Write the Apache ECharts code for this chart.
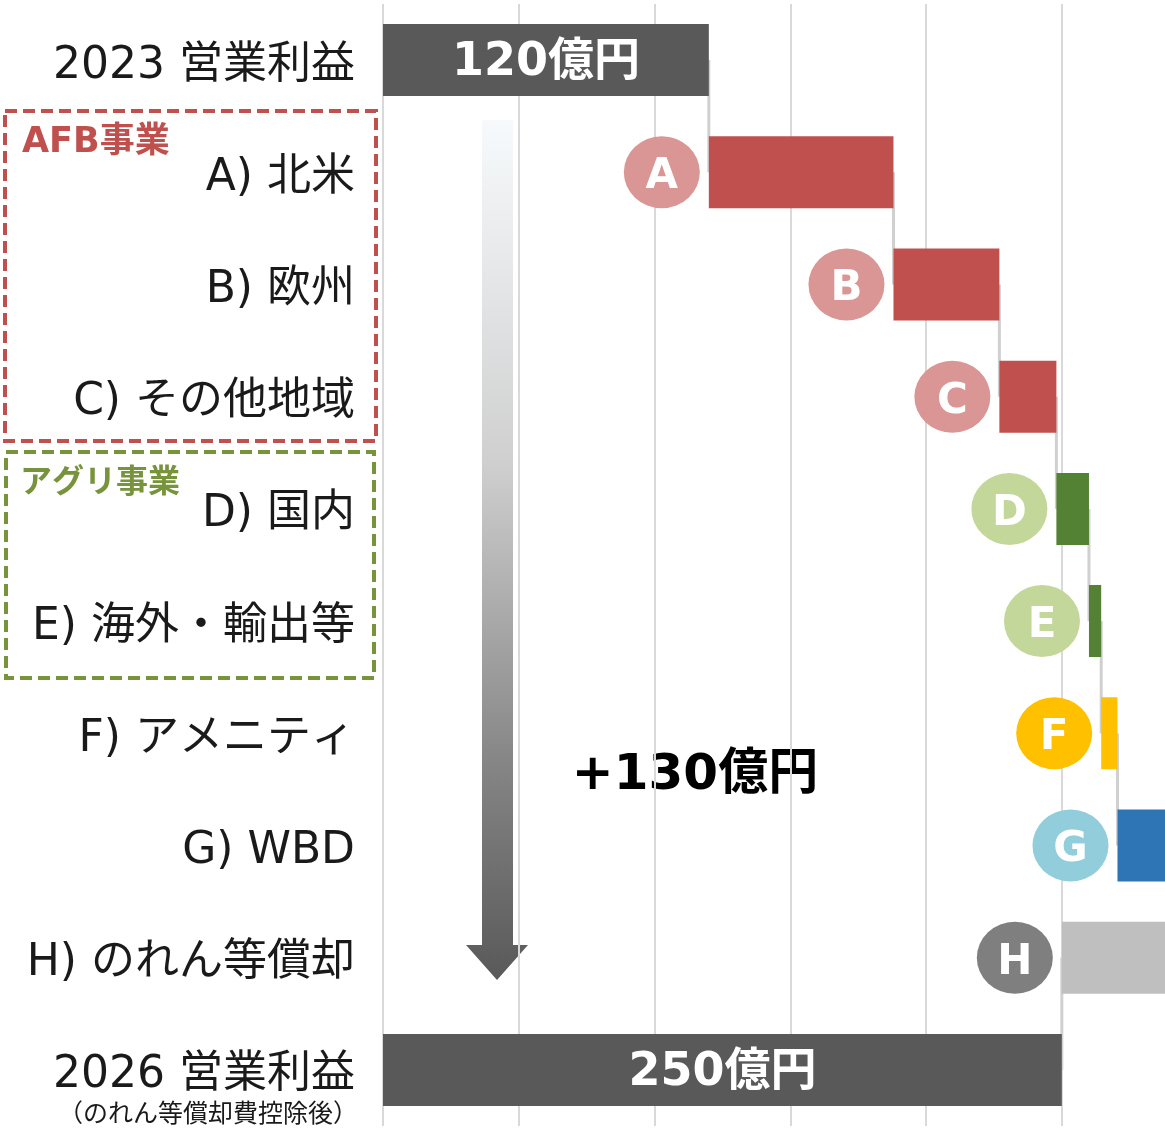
<!DOCTYPE html>
<html>
<head>
<meta charset="utf-8">
<script src="https://cdn.jsdelivr.net/npm/echarts@6/dist/echarts.min.js"></script>
<style>
  html, body { margin: 0; padding: 0; background: #fff; }
  #chart { width: 1165px; height: 1131px; }
</style>
</head>
<body>
<div id="chart"></div>
<script>
// 営業利益ブリッジ（億円）
const categories = ['2023 営業利益', 'A) 北米', 'B) 欧州', 'C) その他地域', 'D) 国内', 'E) 海外・輸出等', 'F) アメニティ', 'G) WBD', 'H) のれん等償却', '2026 営業利益']
const letters = ['', 'A', 'B', 'C', 'D', 'E', 'F', 'G', 'H', '']
const changes = [120, 68, 39, 21, 12, 4.5, 6, 30, -50.5, 250]
const isTotal = [true, false, false, false, false, false, false, false, false, true]
const totalLabels = ['120億円', '', '', '', '', '', '', '', '', '250億円']
const barColors = ['#595959', '#c0504d', '#c0504d', '#c0504d', '#548235', '#548235', '#ffc000', '#2e75b6', '#bfbfbf', '#595959']
const circleColors = ['', '#d99694', '#d99694', '#d99694', '#c4d79b', '#c4d79b', '#ffc000', '#92cddc', '#7f7f7f', '']

// waterfall: invisible base + visible length
const bases = []
const lengths = []
const runs = []
let running = 0
changes.forEach((v, i) => {
  if (isTotal[i]) {
    bases.push(0); lengths.push(v); running = v
  } else if (v >= 0) {
    bases.push(running); lengths.push(v); running += v
  } else {
    running += v; bases.push(running); lengths.push(-v)
  }
  runs.push(running)
})

const FONT = '"DejaVu Sans", "Noto Sans CJK JP", sans-serif'
const chart = echarts.init(document.getElementById('chart'))

chart.setOption({
  animation: false,
  grid: { left: 383, right: 0, top: 4, bottom: 5 },
  xAxis: {
    type: 'value', min: 0, max: 288, interval: 50,
    axisLine: { show: false }, axisTick: { show: false }, axisLabel: { show: false },
    splitLine: { show: true, showMaxLine: false, lineStyle: { color: '#d9d9d9', width: 2 } },
  },
  yAxis: {
    type: 'category', data: categories, inverse: true,
    axisLine: { show: false }, axisTick: { show: false },
    axisLabel: {
      margin: 28,
      formatter: (v) => '{p| }\n{t|' + v + '}',
      rich: {
        p: { fontSize: 1, lineHeight: 12 },
        t: { fontSize: 44, lineHeight: 52, color: '#1a1a1a', fontFamily: FONT },
      },
    },
  },
  series: [
    {
      type: 'custom',
      clip: true,
      z: 1,
      data: runs.slice(0, -1).map((v, i) => [v, i]),
      renderItem: (params, api) => {
        const i = api.value(1)
        const p1 = api.coord([api.value(0), i])
        const p2 = api.coord([api.value(0), i + 1])
        return {
          type: 'line',
          shape: { x1: p1[0], y1: p1[1], x2: p2[0], y2: p2[1] },
          style: { stroke: '#d0d0d0', lineWidth: 3 },
        }
      },
    },
    {
      type: 'bar', stack: 'w', barWidth: 72, silent: true, z: 2,
      itemStyle: { color: 'transparent' },
      data: bases,
    },
    {
      type: 'bar', stack: 'w', barWidth: 72, z: 2,
      data: lengths.map((v, i) => ({
        value: v,
        itemStyle: { color: barColors[i] },
        label: {
          show: isTotal[i], position: 'inside', formatter: totalLabels[i], offset: [0, 3],
          color: '#fff', fontSize: 46, fontWeight: 'bold', fontFamily: FONT,
        },
      })),
    },
    {
      type: 'scatter', z: 3,
      symbol: 'circle', symbolSize: [76, 72], symbolOffset: [-47, 0],
      data: letters.map((l, i) => l ? {
        value: [bases[i], i],
        itemStyle: { color: circleColors[i], opacity: 1 },
        label: {
          show: true, position: 'inside', formatter: l, offset: [0, 5],
          color: '#fff', fontSize: 42, fontWeight: 'bold', fontFamily: '"DejaVu Sans", sans-serif',
        },
      } : null).filter(Boolean),
    },
  ],
  graphic: [
    {
      type: 'polygon',
      shape: { points: [[482, 120], [513, 120], [513, 945], [528, 945], [497, 980], [466, 945], [482, 945]] },
      style: {
        fill: new echarts.graphic.LinearGradient(0, 0, 0, 1, [
          { offset: 0, color: '#f7fafc' },
          { offset: 0.4, color: '#cfcfcf' },
          { offset: 0.75, color: '#858585' },
          { offset: 1, color: '#595959' },
        ]),
      },
    },
    {
      type: 'text', x: 695, y: 776,
      style: { text: '+130億円', fill: '#000', font: 'bold 50px ' + FONT, textAlign: 'center', textVerticalAlign: 'middle' },
    },
    {
      type: 'rect', shape: { x: 5, y: 111, width: 371, height: 330 },
      style: { fill: 'none', stroke: '#c0504d', lineWidth: 4, lineDash: [12, 6] },
    },
    {
      type: 'text', x: 22, y: 143,
      style: { text: 'AFB事業', fill: '#c0504d', font: 'bold 35px ' + FONT, textVerticalAlign: 'middle' },
    },
    {
      type: 'rect', shape: { x: 6, y: 452, width: 368, height: 226 },
      style: { fill: 'none', stroke: '#77933c', lineWidth: 4, lineDash: [12, 6] },
    },
    {
      type: 'text', x: 20, y: 484,
      style: { text: 'アグリ事業', fill: '#77933c', font: 'bold 32px ' + FONT, textVerticalAlign: 'middle' },
    },
    {
      type: 'text', x: 358, y: 1115,
      style: { text: '（のれん等償却費控除後）', fill: '#1a1a1a', font: '25px ' + FONT, textAlign: 'right', textVerticalAlign: 'middle' },
    },
  ],
})

window.addEventListener('resize', () => chart.resize())
</script>
</body>
</html>
